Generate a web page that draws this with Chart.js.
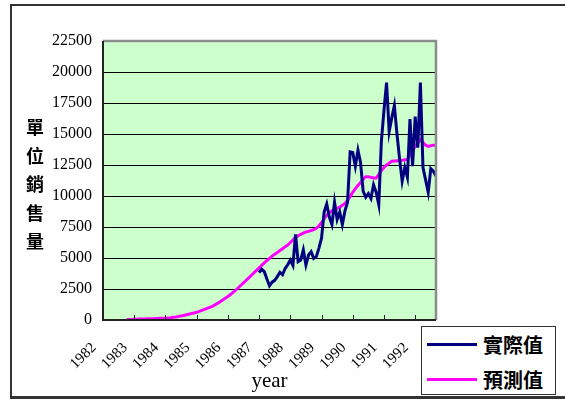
<!DOCTYPE html>
<html>
<head>
<meta charset="utf-8">
<script src="https://cdn.jsdelivr.net/npm/chart.js@4/dist/chart.umd.min.js"></script>
<style>
  body { margin:0; background:#fff; }
  #wrap { position:relative; width:565px; height:400px; overflow:hidden; }
  #frame { position:absolute; left:10px; top:4px; width:600px; height:390px; border:2px solid #333; border-bottom-width:3px; }
  #yTitle { position:absolute; left:24px; top:112px; width:22px; font:bold 18px 'Noto Sans CJK TC'; line-height:28.5px; text-align:center; color:#000; }
  #legend { position:absolute; left:421px; top:326px; width:133px; height:67px; border:1px solid #333; background:#fff; }
  .lg-row { position:absolute; left:5px; display:flex; align-items:center; font:bold 20px 'Noto Sans CJK TC'; color:#000; }
  .lg-line { width:50px; height:3px; margin-right:6px; }
</style>
</head>
<body>
<div id="wrap">
  <div id="frame"></div>
  <canvas id="chart" width="565" height="400" style="position:absolute;left:0;top:0;"></canvas>
  <div id="yTitle">單<br>位<br>銷<br>售<br>量</div>
  <div id="legend">
    <div class="lg-row" style="top:3px;"><div class="lg-line" style="background:#000080;"></div>實際值</div>
    <div class="lg-row" style="top:38px;"><div class="lg-line" style="background:#ff00ff;"></div>預測值</div>
  </div>
</div>
<script>
// monthly series, month 0 = Jan 1982
const yearLabels = ['1982','1983','1984','1985','1986','1987','1988','1989','1990','1991','1992'];
const lastMonth = 128;
const yTicks = [0,2500,5000,7500,10000,12500,15000,17500,20000,22500];

const actualStart = 60;
const actual = [3820,4090,3900,3300,2750,3050,3200,3500,3850,3650,
  4150,4450,4840,4400,6900,4700,4840,5650,4440,5240,
  5510,4970,5110,5800,6600,8700,9350,8300,7700,9500,
  8100,8700,7700,8800,9500,13550,13500,12400,13700,12700,
  10400,9900,10200,9800,10900,10300,9300,14400,16900,19140,
  15200,16300,17300,15000,13000,11200,12300,11500,16200,12400,
  16400,13900,19140,12300,11300,10300,12200,12000,11600];

const forecastStart = 9;
const forecast = [30,40,50,60,70,80,85,90,95,100,
  110,115,125,135,140,150,170,190,215,240,
  280,330,370,420,470,520,570,620,690,770,
  850,930,1010,1100,1220,1340,1470,1610,1750,1900,
  2060,2230,2400,2600,2800,3000,3200,3400,3600,3800,
  4000,4200,4400,4600,4800,4970,5150,5300,5450,5600,
  5750,5900,6050,6250,6450,6650,6800,6900,7000,7100,
  7150,7220,7280,7400,7600,7850,8150,8450,8650,8800,
  8900,9000,9100,9250,9400,9650,9950,10300,10600,10850,
  11100,11350,11550,11550,11500,11450,11450,11750,12050,12300,
  12500,12650,12800,12820,12840,12850,12880,12920,12950,13300,
  13650,14000,14300,14550,14300,14100,14000,14050,14100,14100];

const firstYear = +yearLabels[0];
const toPoints = (vals, start) => vals.map((v, i) => ({x: firstYear + (start + i) / 12, y: v}));

const serif = 'Liberation Serif';

// green plot background, plot frame and inner year tick marks
const plotFrame = {
  id: 'plotFrame',
  beforeDraw(chart) {
    const {ctx, chartArea: a} = chart;
    ctx.save();
    ctx.fillStyle = '#ccffcc';
    ctx.fillRect(a.left, a.top, a.right - a.left, a.bottom - a.top);
    ctx.restore();
  },
  afterDatasetsDraw(chart) {
    const {ctx, chartArea: a, scales: {x}} = chart;
    ctx.save();
    ctx.strokeStyle = '#8c8c8c';
    ctx.lineWidth = 2.5;
    ctx.beginPath();
    ctx.moveTo(a.left, a.top); ctx.lineTo(a.right, a.top); ctx.lineTo(a.right, a.bottom);
    ctx.stroke();
    ctx.strokeStyle = '#222';
    ctx.lineWidth = 2;
    ctx.beginPath();
    ctx.moveTo(a.left, a.top); ctx.lineTo(a.left, a.bottom); ctx.lineTo(a.right, a.bottom);
    ctx.stroke();
    ctx.lineWidth = 1;
    ctx.beginPath();
    yearLabels.forEach(y => {
      const px = Math.round(x.getPixelForValue(+y)) + 0.5;
      ctx.moveTo(px, a.bottom); ctx.lineTo(px, a.bottom - 5);
    });
    ctx.stroke();
    ctx.restore();
  }
};

new Chart(document.getElementById('chart'), {
  type: 'line',
  data: {
    datasets: [
      {label: '實際值', data: toPoints(actual, actualStart), borderColor: '#000080', borderWidth: 3, pointRadius: 0, tension: 0},
      {label: '預測值', data: toPoints(forecast, forecastStart), borderColor: '#ff00ff', borderWidth: 3, pointRadius: 0, tension: 0}
    ]
  },
  options: {
    responsive: false,
    animation: false,
    layout: {padding: {left: 0, top: 41, right: 129, bottom: 6}},
    plugins: {legend: {display: false}, tooltip: {enabled: false}},
    scales: {
      x: {
        type: 'linear',
        min: firstYear,
        max: firstYear + lastMonth / 12,
        afterFit: s => { s.height = 74; },
        grid: {display: false, drawTicks: false},
        border: {display: false},
        ticks: {
          stepSize: 1, includeBounds: false, autoSkip: false,
          minRotation: 45, maxRotation: 45, padding: 19, labelOffset: -9,
          color: '#000', font: {family: serif, size: 15},
          callback: v => yearLabels.includes(String(v)) ? String(v) : ''
        },
        title: {display: true, text: 'year', color: '#000', font: {family: serif, size: 21}, padding: {top: 0, bottom: 0}}
      },
      y: {
        min: yTicks[0],
        max: yTicks[yTicks.length - 1],
        afterFit: s => { s.width = 103; },
        grid: {color: '#000', lineWidth: 1, drawTicks: false},
        border: {display: false},
        ticks: {stepSize: 2500, padding: 11, color: '#000', font: {family: serif, size: 16}, callback: v => String(v)}
      }
    }
  },
  plugins: [plotFrame]
});
</script>
</body>
</html>
